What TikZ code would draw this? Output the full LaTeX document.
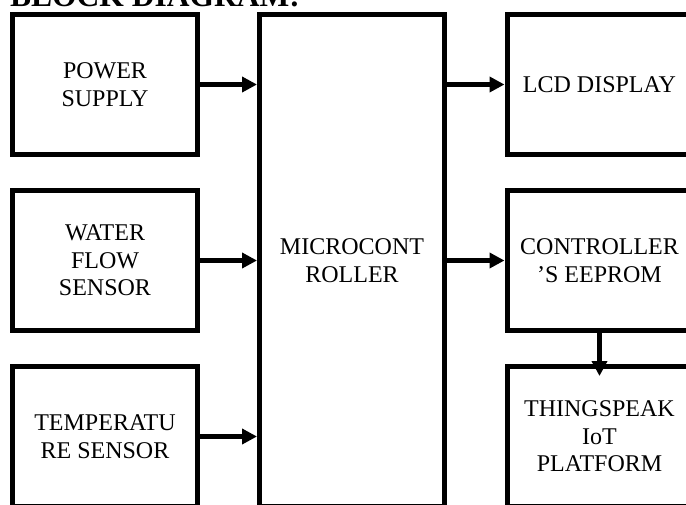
\documentclass[tikz,border=0pt]{standalone}
\usepackage{fontspec}
\setmainfont{Liberation Serif}
\usetikzlibrary{arrows.meta}

\begin{document}
\begin{tikzpicture}[x=1pt,y=-1pt,
  block/.style={draw=black, line width=5pt, fill=white, minimum width=185pt,
    minimum height=140pt, inner sep=0pt, align=center,
    font=\fontsize{24}{27.5}\selectfont},
  link/.style={line width=5pt, -{Triangle[length=15pt,width=15pt]}}]
  \useasboundingbox (0,0) rectangle (686,504);
  \clip (0,0) rectangle (686,504);

  % heading
  \node[anchor=base west, inner sep=0pt, font=\fontsize{31.5}{36}\selectfont\bfseries]
    (title) at (10,6) {BLOCK DIAGRAM:};

  % inputs
  \node[block] (pw) at (105,84.5)  {POWER\\SUPPLY};
  \node[block] (wf) at (105,260.5) {WATER\\FLOW\\SENSOR};
  \node[block] (tp) at (105,436.5) {TEMPERATU\\RE SENSOR};

  % controller
  \node[block, minimum height=492pt] (mc) at (352,260.5) {MICROCONT\\ROLLER};

  % outputs
  \node[block] (lcd) at (599.5,84.5)  {LCD DISPLAY};
  \node[block] (ee)  at (599.5,260.5) {CONTROLLER\\’S EEPROM};
  \node[block] (ts)  at (599.5,436.5) {THINGSPEAK\\IoT\\PLATFORM};

  % connections
  \draw[link] (pw.east) -- (pw.east -| mc.west);
  \draw[link] (wf.east) -- (wf.east -| mc.west);
  \draw[link] (tp.east) -- (tp.east -| mc.west);
  \draw[link] (lcd.west -| mc.east) -- (lcd.west);
  \draw[link] (ee.west -| mc.east) -- (ee.west);
  \draw[link] (ee.south) -- ([yshift=-12pt]ts.north);
\end{tikzpicture}
\end{document}
